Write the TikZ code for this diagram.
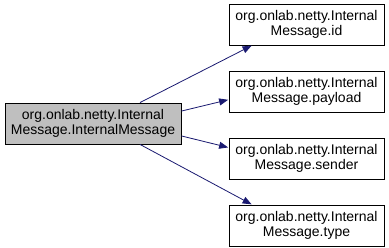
\documentclass[tikz,border=0pt]{standalone}
\usepackage{fontspec}
\setmainfont{Liberation Sans}
\usetikzlibrary{arrows.meta}

\definecolor{midnight}{HTML}{191970}
\tikzset{
  member/.style={draw, line width=0.8pt, fill=white, minimum width=155pt,
    minimum height=41pt, align=center, inner sep=0pt,
    font=\fontsize{14}{15.5}\selectfont},
  current/.style={member, fill=black!25, minimum width=176pt},
  call/.style={draw=midnight, line width=0.8pt,
    -{Triangle[length=9pt,width=7pt]}, shorten >=0.5pt}
}

\begin{document}
\begin{tikzpicture}[x=1pt, y=-1pt]
  \useasboundingbox (0,0) rectangle (389,247);

  % caller
  \node[current] (main) at (93,123.5) {org.onlab.netty.Internal\\Message.InternalMessage};

  % callees
  \node[member] (id)      at (306.5,24.5)  {org.onlab.netty.Internal\\Message.id};
  \node[member] (payload) at (306.5,91.5)  {org.onlab.netty.Internal\\Message.payload};
  \node[member] (sender)  at (306.5,158.5) {org.onlab.netty.Internal\\Message.sender};
  \node[member] (type)    at (306.5,225.5) {org.onlab.netty.Internal\\Message.type};

  \draw[call] (main.24)  -- (id.201);
  \draw[call] (main.8)   -- (payload.186);
  \draw[call] (main.352) -- (sender.172);
  \draw[call] (main.336) -- (type.159);
\end{tikzpicture}
\end{document}
